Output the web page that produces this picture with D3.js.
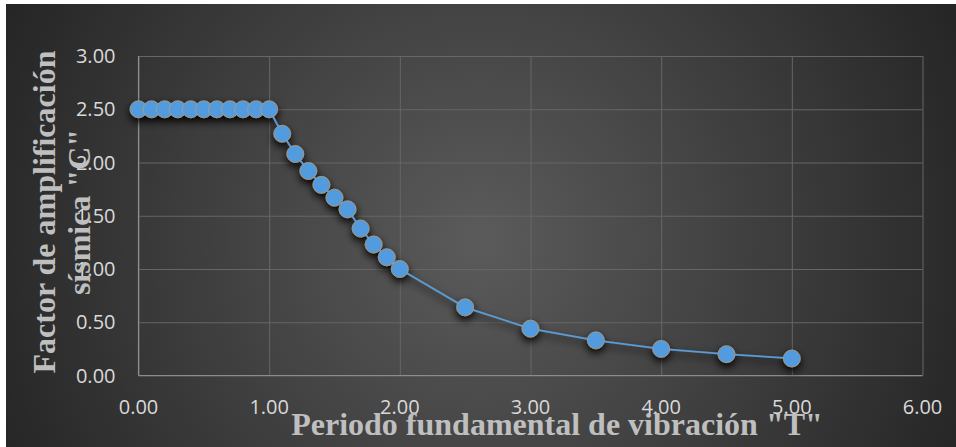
<!DOCTYPE html>
<html>
<head>
<meta charset="utf-8">
<script src="https://cdn.jsdelivr.net/npm/d3@7"></script>
<style>
body{margin:0;background:#fff;}
svg{display:block;}
</style>
</head>
<body>
<svg></svg>
<script>
var width = 956;
var height = 447;
// periodo T y factor C
var periodos = [0.0,0.1,0.2,0.3,0.4,0.5,0.6,0.7,0.8,0.9,1.0,1.1,1.2,1.3,1.4,1.5,1.6,1.7,1.8,1.9,2.0,2.5,3.0,3.5,4.0,4.5,5.0];
var factores = [2.5,2.5,2.5,2.5,2.5,2.5,2.5,2.5,2.5,2.5,2.5,2.27,2.08,1.92,1.79,1.67,1.56,1.38,1.23,1.11,1.00,0.64,0.44,0.33,0.25,0.20,0.16];
var xTicks = [0,1,2,3,4,5,6];
var yTicks = [0,0.5,1,1.5,2,2.5,3];
var xTitle = 'Periodo fundamental de vibración "T"';
var yTitle = ['Factor de amplificación', 'sísmica "C"'];

var data = periodos.map((t,i) => ({t:t, c:factores[i]}));

var svg = d3.select("svg")
    .attr("width",width)
    .attr("height",height);

var defs = svg.append("defs");
var grad = defs.append("radialGradient")
    .attr("id","bg")
    .attr("gradientUnits","userSpaceOnUse")
    .attr("cx",480).attr("cy",240).attr("r",520);
grad.append("stop").attr("offset","0%").attr("stop-color","#5b5b5b");
grad.append("stop").attr("offset","100%").attr("stop-color","#262626");

var shadow = defs.append("filter")
    .attr("id","sombra")
    .attr("x","-50%").attr("y","-50%").attr("width","200%").attr("height","200%");
shadow.append("feDropShadow")
    .attr("dx",0).attr("dy",4)
    .attr("stdDeviation",4)
    .attr("flood-color","#000")
    .attr("flood-opacity",1);

svg.append("rect")
    .attr("x",6).attr("y",4)
    .attr("width",width-6).attr("height",height-4)
    .attr("fill","url(#bg)");

var mLeft = 138.5, mRight = 922.5, mTop = 56, mBottom = 375.5;

var xScale = d3.scaleLinear().domain([0,6]).range([mLeft,mRight]);
var yScale = d3.scaleLinear().domain([0,3]).range([mBottom,mTop]);

// grid
svg.append("g")
    .attr("transform","translate(0,"+mBottom+")")
    .call(d3.axisBottom(xScale).tickValues(xTicks).tickSize(-(mBottom-mTop)).tickFormat(""))
    .call(g => g.select(".domain").remove())
    .call(g => g.selectAll("line").attr("stroke","#666").attr("stroke-width",1));
svg.append("g")
    .attr("transform","translate("+mLeft+",0)")
    .call(d3.axisLeft(yScale).tickValues(yTicks).tickSize(-(mRight-mLeft)).tickFormat(""))
    .call(g => g.select(".domain").remove())
    .call(g => g.selectAll("line").attr("stroke","#666").attr("stroke-width",1));

// axis lines
svg.append("line")
    .attr("x1",mLeft).attr("x2",mRight)
    .attr("y1",mBottom).attr("y2",mBottom)
    .attr("stroke","#8c8c8c").attr("stroke-width",1.2);
svg.append("line")
    .attr("x1",mLeft).attr("x2",mLeft)
    .attr("y1",mTop).attr("y2",mBottom)
    .attr("stroke","#8c8c8c").attr("stroke-width",1.2);

// tick labels
svg.append("g").selectAll("text")
    .data(xTicks).enter().append("text")
    .attr("x", d => xScale(d))
    .attr("y", mBottom+38)
    .attr("text-anchor","middle")
    .attr("font-family","Open Sans")
    .attr("font-size",20)
    .attr("fill","#d9d9d9")
    .text(d => d.toFixed(2));
svg.append("g").selectAll("text")
    .data(yTicks).enter().append("text")
    .attr("x", mLeft-23)
    .attr("y", d => yScale(d)+7)
    .attr("text-anchor","end")
    .attr("font-family","Open Sans")
    .attr("font-size",20)
    .attr("fill","#d9d9d9")
    .text(d => d.toFixed(2));

// series
var serie = svg.append("g").attr("filter","url(#sombra)");
serie.append("path")
    .datum(data)
    .attr("fill","none")
    .attr("stroke","#5b9bd5")
    .attr("stroke-width",1.75)
    .attr("d", d3.line().x(d => xScale(d.t)).y(d => yScale(d.c)));
serie.selectAll("circle")
    .data(data).enter().append("circle")
    .attr("cx", d => xScale(d.t))
    .attr("cy", d => yScale(d.c))
    .attr("r",8.5)
    .attr("fill","#539bdf")
    .attr("stroke","#b59c78")
    .attr("stroke-width",0.8);

// titles
svg.append("text")
    .attr("x",557)
    .attr("y",435)
    .attr("text-anchor","middle")
    .attr("font-family","Liberation Serif")
    .attr("font-weight","bold")
    .attr("font-size",32)
    .attr("fill","#bfbfbf")
    .text(xTitle);
svg.append("g")
    .attr("transform","translate(0,212) rotate(-90)")
    .selectAll("text")
    .data(yTitle).enter().append("text")
    .attr("x",0)
    .attr("y",(d,i) => 55 + i*35)
    .attr("text-anchor","middle")
    .attr("font-family","Liberation Serif")
    .attr("font-weight","bold")
    .attr("font-size",32)
    .attr("fill","#bfbfbf")
    .text(d => d);
</script>
</body>
</html>
